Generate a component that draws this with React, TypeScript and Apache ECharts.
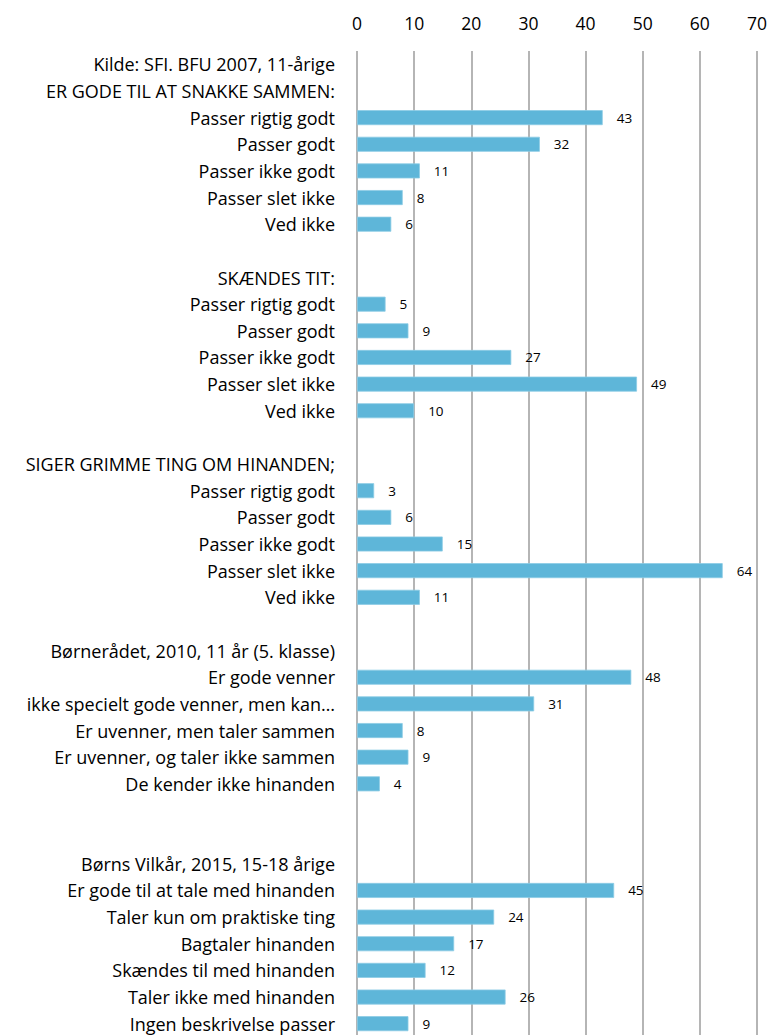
import React, { useEffect, useRef } from "react";
import * as echarts from "echarts";

const categories: string[] = [
  "Kilde: SFI. BFU 2007, 11-årige",
  "ER GODE TIL AT SNAKKE SAMMEN:",
  "Passer rigtig godt",
  "Passer godt",
  "Passer ikke godt",
  "Passer slet ikke",
  "Ved ikke",
  "",
  "SKÆNDES TIT:",
  "Passer rigtig godt",
  "Passer godt",
  "Passer ikke godt",
  "Passer slet ikke",
  "Ved ikke",
  " ",
  "SIGER GRIMME TING OM HINANDEN;",
  "Passer rigtig godt",
  "Passer godt",
  "Passer ikke godt",
  "Passer slet ikke",
  "Ved ikke",
  "  ",
  "Børnerådet, 2010, 11 år (5. klasse)",
  "Er gode venner",
  "ikke specielt gode venner, men kan…",
  "Er uvenner, men taler sammen",
  "Er uvenner, og taler ikke sammen",
  "De kender ikke hinanden",
  "   ",
  "    ",
  "Børns Vilkår, 2015, 15-18 årige",
  "Er gode til at tale med hinanden",
  "Taler kun om praktiske ting",
  "Bagtaler hinanden",
  "Skændes til med hinanden",
  "Taler ikke med hinanden",
  "Ingen beskrivelse passer",
];

const values: (number | null)[] = [
  null, null, 43, 32, 11, 8, 6,
  null, null, 5, 9, 27, 49, 10,
  null, null, 3, 6, 15, 64, 11,
  null, null, 48, 31, 8, 9, 4,
  null, null, null, 45, 24, 17, 12, 26, 9,
];

const axisMin = 0;
const axisMax = 70;
const axisInterval = 10;

export default function App() {
  const ref = useRef<HTMLDivElement>(null);
  useEffect(() => {
    if (!ref.current) return;
    const chart = echarts.init(ref.current, null, { renderer: "svg" });
    const font = "'Open Sans', Lato, sans-serif";
    chart.setOption({
      animation: false,
      backgroundColor: "#ffffff",
      grid: { left: 357, right: 12, top: 51, bottom: 0, containLabel: false },
      xAxis: {
        type: "value",
        position: "top",
        min: axisMin,
        max: axisMax,
        interval: axisInterval,
        axisLine: { show: false },
        axisTick: { show: false },
        axisLabel: { color: "#000", fontSize: 17.5, fontFamily: font, margin: 19 },
        splitLine: { show: true, lineStyle: { color: "#a3a3a3", width: 1.6 } },
      },
      yAxis: {
        type: "category",
        inverse: true,
        data: categories,
        axisLine: { show: false },
        axisTick: { show: false },
        axisLabel: {
          color: "#000",
          fontSize: 18,
          fontFamily: font,
          margin: 22,
          interval: 0,
        },
      },
      series: [
        {
          type: "bar",
          data: values,
          barWidth: 15,
          itemStyle: { color: "#5eb6d9", borderColor: "#8ccbe5", borderWidth: 0.8 },
          label: {
            show: true,
            position: "right",
            distance: 14,
            color: "#000",
            fontSize: 13.5,
            fontFamily: font,
          },
        },
      ],
    });
    return () => chart.dispose();
  }, []);
  return (
    <div style={{ position: "absolute", left: 0, top: 0, width: 770, height: 1035, overflow: "hidden" }}>
      <div ref={ref} style={{ width: 770, height: 1037 }} />
    </div>
  );
}
